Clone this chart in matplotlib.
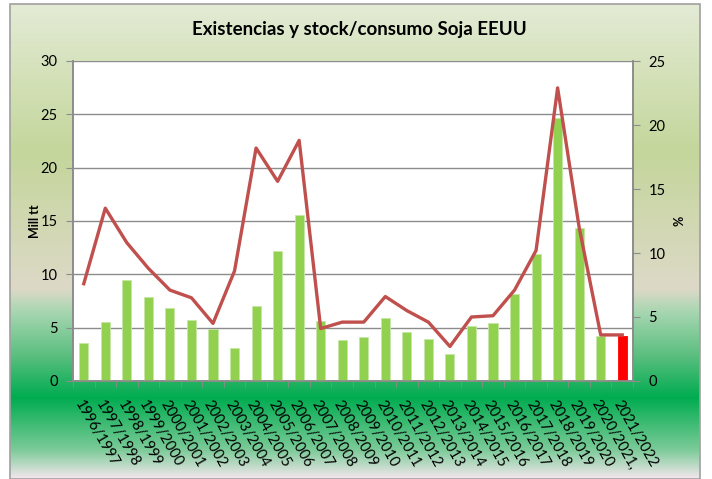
import numpy as np
import matplotlib
matplotlib.use("Agg")
import matplotlib.pyplot as plt
from matplotlib.colors import LinearSegmentedColormap
from matplotlib.patches import Rectangle

plt.rcParams['font.family'] = ['Lato', 'DejaVu Sans']

campanas = ["1996/1997", "1997/1998", "1998/1999", "1999/2000", "2000/2001",
            "2001/2002", "2002/2003", "2003/2004", "2004/2005", "2005/2006",
            "2006/2007", "2007/2008", "2008/2009", "2009/2010", "2010/2011",
            "2011/2012", "2012/2013", "2013/2014", "2014/2015", "2015/2016",
            "2016/2017", "2017/2018", "2018/2019", "2019/2020", "2020/2021,",
            "2021/2022"]
# existencias finales, millones de toneladas
existencias = [3.6, 5.5, 9.5, 7.9, 6.8, 5.7, 4.9, 3.1, 7.0, 12.2, 15.6, 5.6, 3.8,
               4.1, 5.9, 4.6, 3.9, 2.5, 5.2, 5.4, 8.2, 11.9, 24.7, 14.3, 4.2, 4.2]
# stock/consumo, %
stock_consumo = [7.6, 13.5, 10.8, 8.8, 7.1, 6.5, 4.5, 8.6, 18.2, 15.6, 18.8, 4.1,
                 4.6, 4.6, 6.6, 5.5, 4.6, 2.7, 5.0, 5.1, 7.1, 10.2, 22.9, 12.0,
                 3.6, 3.6]

fig = plt.figure(figsize=(7.12, 4.79), dpi=100)

# fondo degradado del grafico
bg = fig.add_axes([10/712, 0, 690/712, 475/479], zorder=-10)
stops = [(0.0, "#e3ebd5"), (0.31, "#c4d69b"), (0.60, "#ddd9c7"), (0.65, "#a6d6b0"),
         (0.74, "#5cbf80"), (0.83, "#00ac50"), (0.94, "#7ccb98"), (1.0, "#f2e6ec")]
cmap = LinearSegmentedColormap.from_list("fondo", stops)
bg.imshow(np.linspace(0, 1, 256).reshape(-1, 1), aspect="auto", cmap=cmap,
          extent=[0, 1, 0, 1])
bg.set_xlim(0, 1)
bg.set_ylim(0, 1)
bg.axis("off")
bg.add_patch(Rectangle((0, 0), 1, 1, transform=bg.transAxes, fill=False,
                       edgecolor="#a0a0a0", lw=1.2, clip_on=False))

ax = fig.add_axes([73/712, 1 - 381/479, 560/712, 320/479])
ax.set_facecolor("white")
x = np.arange(len(campanas))
colores = ["#92d050"] * (len(campanas) - 1) + ["#ff0000"]
bordes = ["#c5e6a4"] * (len(campanas) - 1) + ["#ff0000"]
ax.bar(x, existencias, width=0.42, color=colores, edgecolor=bordes, lw=0.6, zorder=3)
ax.set_xlim(-0.5, len(campanas) - 0.5)
ax.set_ylim(0, 30)
ax.set_yticks(range(0, 31, 5))
ax.yaxis.grid(True, color="#8c8c8c", lw=1.0)
ax.set_axisbelow(True)
ax.set_ylabel("Mill tt", fontsize=9, fontweight="bold", labelpad=0)

ax.set_xticks(x)
ax.set_xticklabels(campanas, rotation=-60, ha="left", va="top",
                   rotation_mode="anchor", fontsize=10.5)
ax.set_xticks(np.arange(-0.5, len(campanas), 1), minor=True)
ax.tick_params(axis="x", which="major", length=0, pad=12)
ax.tick_params(axis="x", which="minor", length=4, color="#8c8c8c")
ax.tick_params(axis="y", length=5, color="#8c8c8c", labelsize=10.5, pad=6)

for s in ["left", "bottom", "right"]:
    ax.spines[s].set_color("#8c8c8c")
    ax.spines[s].set_linewidth(1.2)
ax.spines["top"].set_visible(False)

ax2 = ax.twinx()
ax2.plot(x, stock_consumo, color="#c0504d", lw=2.4, zorder=4)
ax2.set_ylim(0, 25)
ax2.set_yticks(range(0, 26, 5))
ax2.tick_params(axis="y", length=5, color="#8c8c8c", labelsize=10.5, pad=6)
ax2.set_ylabel("%", fontsize=9, fontweight="bold", labelpad=6)
for s in ["left", "bottom", "right"]:
    ax2.spines[s].set_color("#8c8c8c")
    ax2.spines[s].set_linewidth(1.2)
ax2.spines["top"].set_visible(False)

fig.text(0.505, 1 - 30/479, "Existencias y stock/consumo Soja EEUU", ha="center",
         va="center", fontsize=13.5, fontweight="bold")

fig.savefig("out.png", dpi=100)
